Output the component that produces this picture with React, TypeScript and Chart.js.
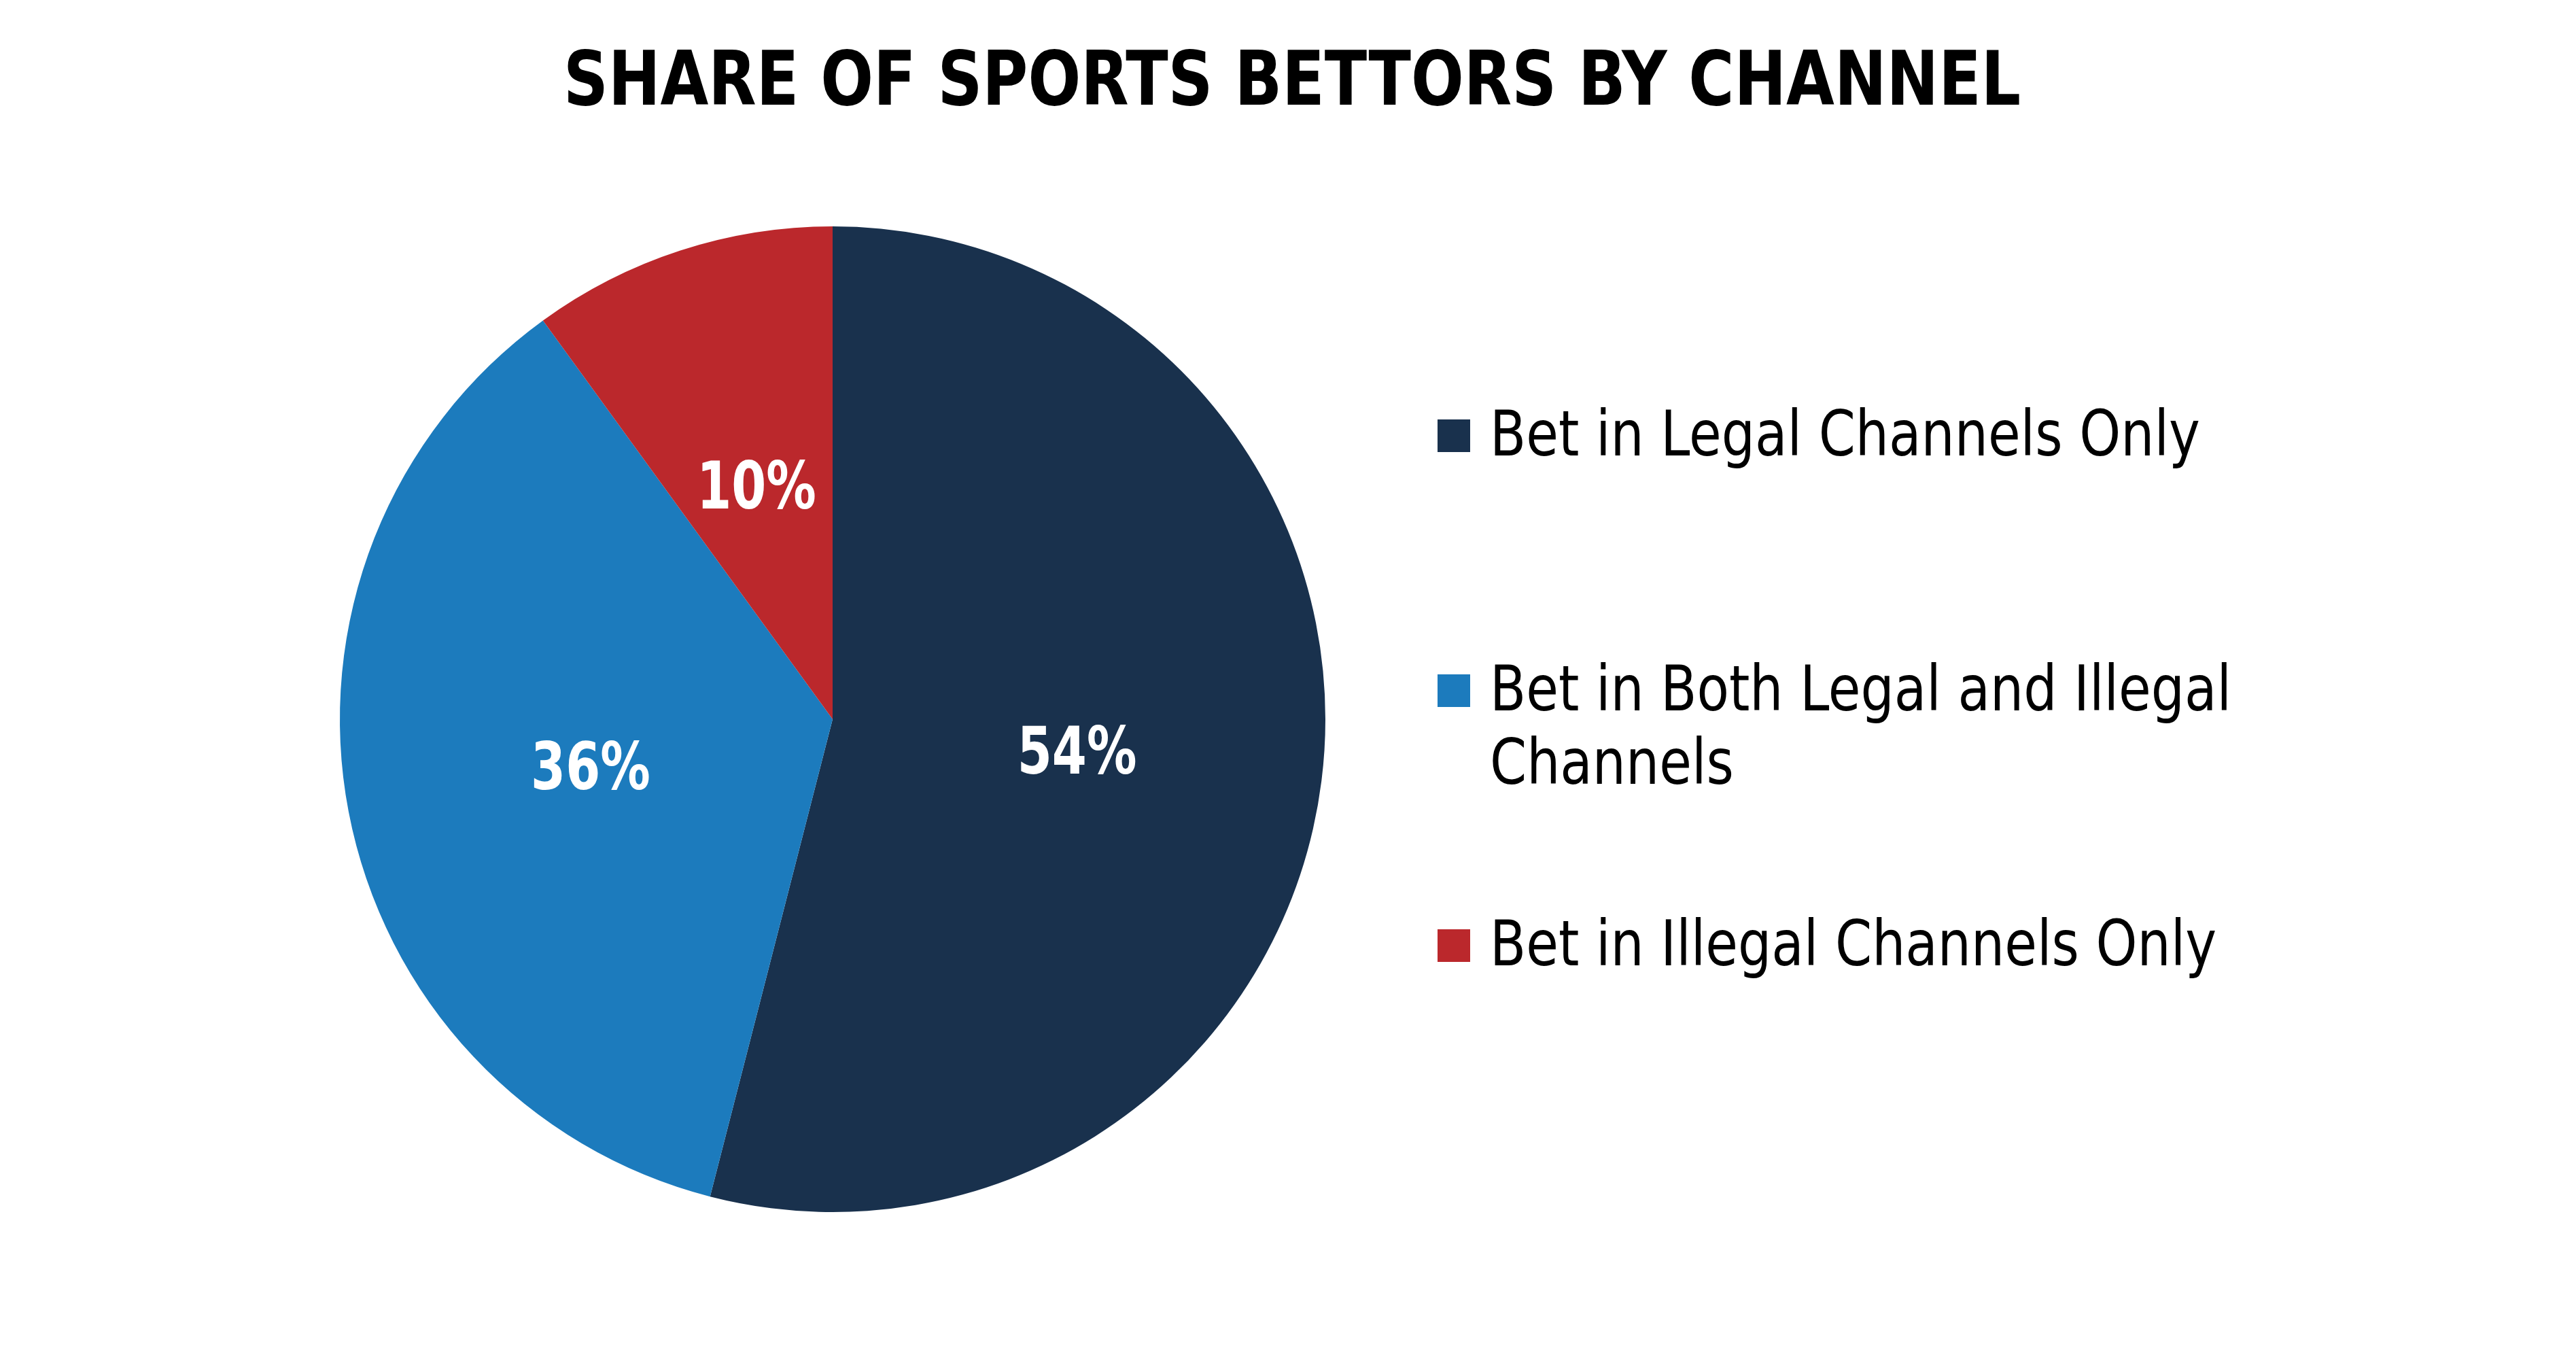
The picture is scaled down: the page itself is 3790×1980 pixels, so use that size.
import { useEffect, useRef } from "react";
import { Chart, registerables, type ChartConfiguration, type Plugin } from "chart.js";

Chart.register(...registerables);

const TITLE = "SHARE OF SPORTS BETTORS BY CHANNEL";
const CATEGORIES = [
  "Bet in Legal Channels Only",
  "Bet in Both Legal and Illegal Channels",
  "Bet in Illegal Channels Only",
];
const SHARES = [54, 36, 10];
const COLORS = ["#19314d", "#1c7bbd", "#bb282c"];

const W = 3790;
const H = 1980;
const NARROW = "'DejaVu Sans Condensed', 'Liberation Sans Narrow', 'DejaVu Sans', sans-serif";

// the reference face is narrower than anything installed, so squeeze horizontally
function squeezedText(ctx: CanvasRenderingContext2D, text: string, x: number, y: number, sx: number) {
  ctx.save();
  ctx.translate(x, y);
  ctx.scale(sx, 1);
  ctx.fillText(text, 0, 0);
  ctx.restore();
}

// wraps a legend label into lines no wider than maxWidth
function wrap(ctx: CanvasRenderingContext2D, text: string, maxWidth: number, sx: number) {
  const words = text.split(" ");
  const lines: string[] = [];
  let cur = "";
  for (const w of words) {
    const next = cur ? cur + " " + w : w;
    if (ctx.measureText(next).width * sx > maxWidth && cur) {
      lines.push(cur);
      cur = w;
    } else {
      cur = next;
    }
  }
  if (cur) lines.push(cur);
  return lines;
}

const decorations: Plugin<"pie"> = {
  id: "decorations",
  afterDatasetsDraw(chart) {
    const { ctx } = chart;
    const meta = chart.getDatasetMeta(0);

    // values inside the slices
    ctx.save();
    ctx.fillStyle = "#ffffff";
    ctx.font = `bold 96px ${NARROW}`;
    ctx.textAlign = "center";
    ctx.textBaseline = "alphabetic";
    meta.data.forEach((arc, i) => {
      const p = (arc as any).tooltipPosition();
      squeezedText(ctx, `${SHARES[i]}%`, p.x, p.y + 35, 0.85);
    });
    ctx.restore();
  },
  afterDraw(chart) {
    const { ctx } = chart;
    ctx.save();

    // title
    ctx.fillStyle = "#000000";
    ctx.font = `bold 110px ${NARROW}`;
    ctx.textAlign = "center";
    ctx.textBaseline = "alphabetic";
    squeezedText(ctx, TITLE, 1901, 154, 0.925);

    // legend
    ctx.font = `93px ${NARROW}`;
    ctx.textAlign = "left";
    const sx = 0.927;
    const centers = [641, 1016, 1391];
    CATEGORIES.forEach((label, i) => {
      const cy = centers[i];
      ctx.fillStyle = COLORS[i];
      ctx.fillRect(2115, cy - 24, 48, 48);
      ctx.fillStyle = "#000000";
      wrap(ctx, label, 1160, sx).forEach((line, j) => {
        squeezedText(ctx, line, 2192, cy + 29 + j * 108, sx);
      });
    });
    ctx.restore();
  },
};

export default function App() {
  const canvasRef = useRef<HTMLCanvasElement | null>(null);

  useEffect(() => {
    const canvas = canvasRef.current;
    if (!canvas) return;

    const config: ChartConfiguration<"pie"> = {
      type: "pie",
      data: {
        labels: CATEGORIES,
        datasets: [
          {
            data: SHARES,
            backgroundColor: COLORS,
            borderWidth: 0,
          },
        ],
      },
      options: {
        responsive: false,
        animation: false,
        devicePixelRatio: 1,
        layout: {
          padding: { top: 333, left: 500, right: 1840, bottom: 197 },
        },
        plugins: {
          legend: { display: false },
          title: { display: false },
          tooltip: { enabled: false },
        },
      },
      plugins: [decorations],
    };

    const chart = new Chart(canvas, config);
    return () => chart.destroy();
  }, []);

  return (
    <div style={{ position: "absolute", left: 0, top: 0, width: W, height: H, background: "#ffffff" }}>
      <canvas
        ref={canvasRef}
        width={W}
        height={H}
        role="img"
        aria-label="Share of sports bettors by channel: legal only 54%, both 36%, illegal only 10%"
      />
    </div>
  );
}
